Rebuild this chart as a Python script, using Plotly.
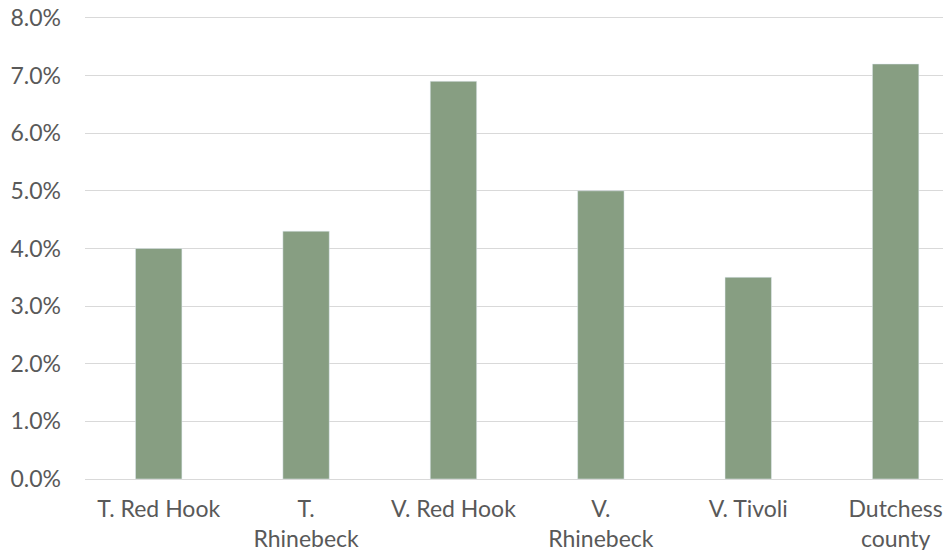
import plotly.graph_objects as go

# data
places = ['T. Red Hook', 'T.<br>Rhinebeck', 'V. Red Hook', 'V.<br>Rhinebeck', 'V. Tivoli', 'Dutchess<br>county']
rates = [0.040, 0.043, 0.069, 0.050, 0.035, 0.072]
y_ticks = [0, 0.01, 0.02, 0.03, 0.04, 0.05, 0.06, 0.07, 0.08]

bars = go.Bar(
    x=places,
    y=rates,
    marker_color='#879e82',
    width=0.315,
    hoverinfo='x+y',
)

# the page body shifts the figure by 8px, so left/top margins are trimmed;
# the y range runs a hair past 8% so its gridline is not clipped at the edge
layout = go.Layout(
    width=951,
    height=550,
    margin=dict(l=77, r=0, t=7, b=79),
    paper_bgcolor='white',
    plot_bgcolor='white',
    font=dict(family='Lato, Open Sans, sans-serif', size=23, color='#595959'),
    showlegend=False,
    xaxis=dict(
        range=[-0.5, 5.43],
        showgrid=False,
        showline=False,
        ticks='',
        ticklabelstandoff=14,
        automargin=False,
    ),
    yaxis=dict(
        range=[0, 0.0805],
        tickvals=y_ticks,
        tickformat='.1%',
        showgrid=True,
        gridcolor='#d9d9d9',
        gridwidth=1,
        zeroline=True,
        zerolinecolor='#d9d9d9',
        zerolinewidth=1,
        ticks='',
        ticklabelstandoff=23,
        ticklabeloverflow='allow',
        automargin=False,
    ),
)

fig = go.Figure(data=[bars], layout=layout)
fig.write_html("out.html")
